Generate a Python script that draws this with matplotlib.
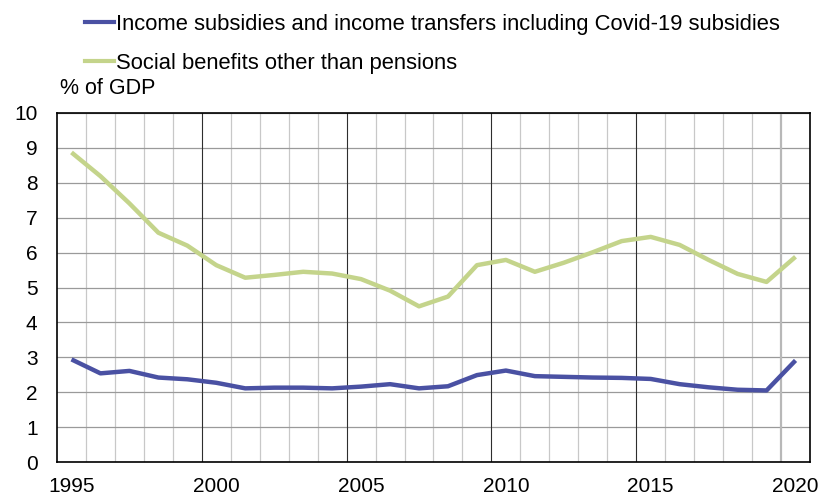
import matplotlib
matplotlib.use("Agg")
import matplotlib.pyplot as plt
from matplotlib.ticker import MultipleLocator, FixedLocator
from matplotlib.lines import Line2D
import numpy as np

plt.rcParams['font.family'] = ['Liberation Sans', 'DejaVu Sans']

years = list(range(1995, 2021))
income_subsidies = [2.94, 2.54, 2.61, 2.42, 2.37, 2.27, 2.11, 2.13, 2.13, 2.11,
                    2.16, 2.23, 2.11, 2.17, 2.49, 2.62, 2.46, 2.44, 2.42, 2.41,
                    2.38, 2.23, 2.14, 2.07, 2.05, 2.91]
social_benefits = [8.87, 8.19, 7.41, 6.57, 6.20, 5.64, 5.28, 5.36, 5.45, 5.40,
                   5.24, 4.91, 4.46, 4.74, 5.64, 5.79, 5.45, 5.71, 6.01, 6.33,
                   6.45, 6.22, 5.79, 5.39, 5.16, 5.88]
labels = ["Income subsidies and income transfers including Covid-19 subsidies",
          "Social benefits other than pensions"]
colors = ["#4A51A3", "#C4D48B"]
x_tick_years = [1995, 2000, 2005, 2010, 2015, 2020]

fig = plt.figure(figsize=(8.23, 4.98), dpi=100)
ax = fig.add_axes([57/823, 1-462/498, (810-57)/823, (462-113)/498])

xs = np.array(years) + 0.5
ax.plot(xs, income_subsidies, color=colors[0], lw=3.2, solid_capstyle='butt', zorder=3)
ax.plot(xs, social_benefits, color=colors[1], lw=3.2, solid_capstyle='butt', zorder=3)

ax.set_xlim(1995, 2021)
ax.set_ylim(0, 10)
ax.yaxis.set_major_locator(MultipleLocator(1))
ax.xaxis.set_major_locator(FixedLocator([y + 0.5 for y in x_tick_years]))
ax.xaxis.set_major_formatter(plt.FixedFormatter([str(y) for y in x_tick_years]))
ax.xaxis.set_minor_locator(FixedLocator([y for y in range(1996, 2021) if y % 5 != 0]))
ax.tick_params(axis='both', which='both', length=0, labelsize=15, colors='black')
ax.tick_params(axis='x', pad=11)
ax.tick_params(axis='y', pad=14)

# gridlines
ax.grid(axis='y', which='major', color='#9a9a9a', lw=0.9)
ax.grid(axis='x', which='minor', color='#c8c8c8', lw=0.9)
for xv in [2000, 2005, 2010, 2015]:
    ax.axvline(xv, color='#2e2e2e', lw=0.8, zorder=2)
ax.axvline(2020, color='#b8b8b8', lw=1.6, zorder=2)

for s in ax.spines.values():
    s.set_color('black')
    s.set_linewidth(1.2)

fig.text(60/823, 1-88/498, "% of GDP", fontsize=15.5, va='center', ha='left')

h1 = Line2D([], [], color=colors[0], lw=3)
h2 = Line2D([], [], color=colors[1], lw=3)
fig.legend([h1, h2], labels, loc='upper left', bbox_to_anchor=(76/823, 1-5/498),
           frameon=False, fontsize=15.8, handlelength=1.34, handletextpad=0.1,
           labelspacing=0.82, borderaxespad=0)

fig.savefig("out.png", dpi=100)
